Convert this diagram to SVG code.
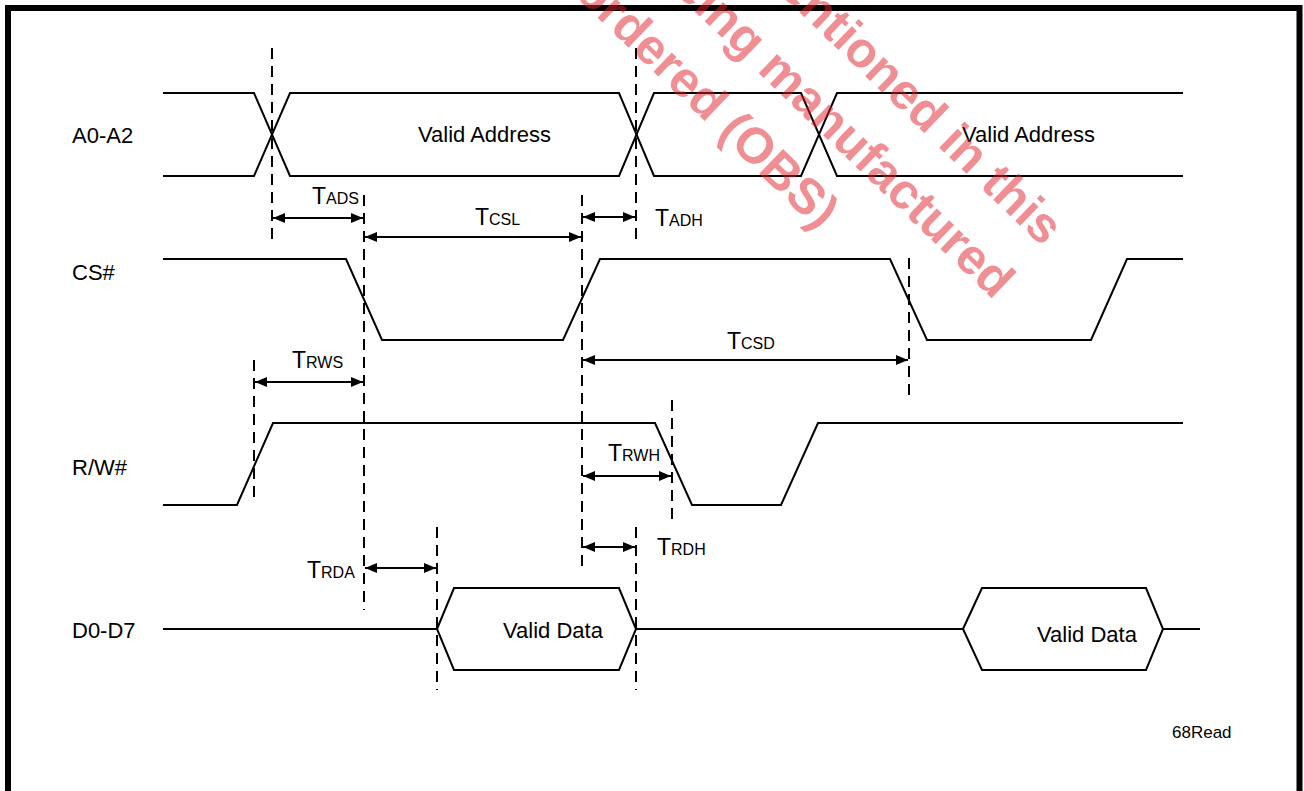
<svg xmlns="http://www.w3.org/2000/svg" width="1304" height="791" viewBox="0 0 1304 791">
<defs>
<style>
.sig{fill:none;stroke:#000;stroke-width:2;stroke-linejoin:miter}
.dash{fill:none;stroke:#000;stroke-width:2;stroke-dasharray:11,7}
.arr{fill:none;stroke:#000;stroke-width:2;marker-start:url(#ah);marker-end:url(#ah)}
.lbl{font-family:"Liberation Sans",Arial,sans-serif;font-size:22px;fill:#000}
.tm{font-family:"Liberation Sans",Arial,sans-serif;font-size:23px;fill:#000}
.sub{font-size:16px}
.wm{font-family:"Liberation Sans",Arial,sans-serif;font-weight:bold;font-size:50px;fill:#e0202a;fill-opacity:0.5}
</style>
<marker id="ah" viewBox="0 0 12 10" refX="12" refY="5" markerWidth="12" markerHeight="10" markerUnits="userSpaceOnUse" orient="auto-start-reverse">
<path d="M0,0 L12,5 L0,10 Z" fill="#000"/>
</marker>
</defs>
<rect x="0" y="0" width="1304" height="791" fill="#fff"/>
<rect id="frame" x="8" y="8" width="1291.5" height="800" fill="none" stroke="#000" stroke-width="6"/>

<g id="sig-a0a2">
<path class="sig" d="M163,93 H254 L290,176 H619 L654,93 H801 L837,176 H1183"/>
<path class="sig" d="M163,176 H254 L290,93 H619 L654,176 H801 L837,93 H1183"/>
<text class="lbl" x="72" y="143">A0-A2</text>
<text class="lbl" x="418" y="142">Valid Address</text>
<text class="lbl" x="962" y="142">Valid Address</text>
</g>

<g id="sig-cs">
<path class="sig" d="M163,259 H346 L382,340 H563 L600,259 H890 L927,340 H1091 L1127,259 H1183"/>
<text class="lbl" x="72" y="280">CS#</text>
</g>

<g id="sig-rw">
<path class="sig" d="M163,505 H237 L273,423 H655 L692,505 H781 L818,423 H1183"/>
<text class="lbl" x="72" y="475">R/W#</text>
</g>

<g id="sig-data">
<path class="sig" d="M163,629 H437 M636,629 H963 M1163,629 H1200"/>
<path class="sig" d="M437,629 L454,588 H619 L636,629 L619,670 H454 Z"/>
<path class="sig" d="M963,629 L982,588 H1146 L1163,629 L1146,670 H982 Z"/>
<text class="lbl" x="72" y="638">D0-D7</text>
<text class="lbl" x="503" y="638">Valid Data</text>
<text class="lbl" x="1037" y="642">Valid Data</text>
</g>

<g id="connectors">
<line class="dash" x1="272" y1="48" x2="272" y2="240"/>
<line class="dash" x1="636" y1="48" x2="636" y2="240"/>
<line class="dash" x1="364" y1="195" x2="364" y2="610"/>
<line class="dash" x1="582" y1="195" x2="582" y2="568"/>
<line class="dash" x1="909" y1="258" x2="909" y2="400"/>
<line class="dash" x1="254" y1="360" x2="254" y2="503"/>
<line class="dash" x1="672" y1="400" x2="672" y2="524"/>
<line class="dash" x1="636" y1="527" x2="636" y2="690"/>
<line class="dash" x1="437" y1="527" x2="437" y2="690"/>

<line class="arr" x1="273" y1="218" x2="363" y2="218"/>
<line class="arr" x1="365" y1="237" x2="581" y2="237"/>
<line class="arr" x1="583" y1="217" x2="635" y2="217"/>
<line class="arr" x1="583" y1="360" x2="908" y2="360"/>
<line class="arr" x1="255" y1="382" x2="363" y2="382"/>
<line class="arr" x1="583" y1="476" x2="671" y2="476"/>
<line class="arr" x1="583" y1="547" x2="635" y2="547"/>
<line class="arr" x1="365" y1="568" x2="436" y2="568"/>
</g>

<g id="timing-labels">
<text class="tm" x="312" y="204">T<tspan class="sub">ADS</tspan></text>
<text class="tm" x="475" y="225">T<tspan class="sub">CSL</tspan></text>
<text class="tm" x="655" y="226">T<tspan class="sub">ADH</tspan></text>
<text class="tm" x="727" y="349">T<tspan class="sub">CSD</tspan></text>
<text class="tm" x="292" y="368">T<tspan class="sub">RWS</tspan></text>
<text class="tm" x="608" y="461">T<tspan class="sub">RWH</tspan></text>
<text class="tm" x="657" y="555">T<tspan class="sub">RDH</tspan></text>
<text class="tm" x="307" y="578">T<tspan class="sub">RDA</tspan></text>
<text class="lbl" style="font-size:17px" x="1172" y="738">68Read</text>
</g>

<g id="watermark" transform="translate(573,-6) rotate(44)">
<text class="wm" x="0" y="0">ordered (OBS)</text>
<text class="wm" x="38" y="-72">being manufactured</text>
<text class="wm" x="100" y="-144">mentioned in this</text>
</g>
</svg>
